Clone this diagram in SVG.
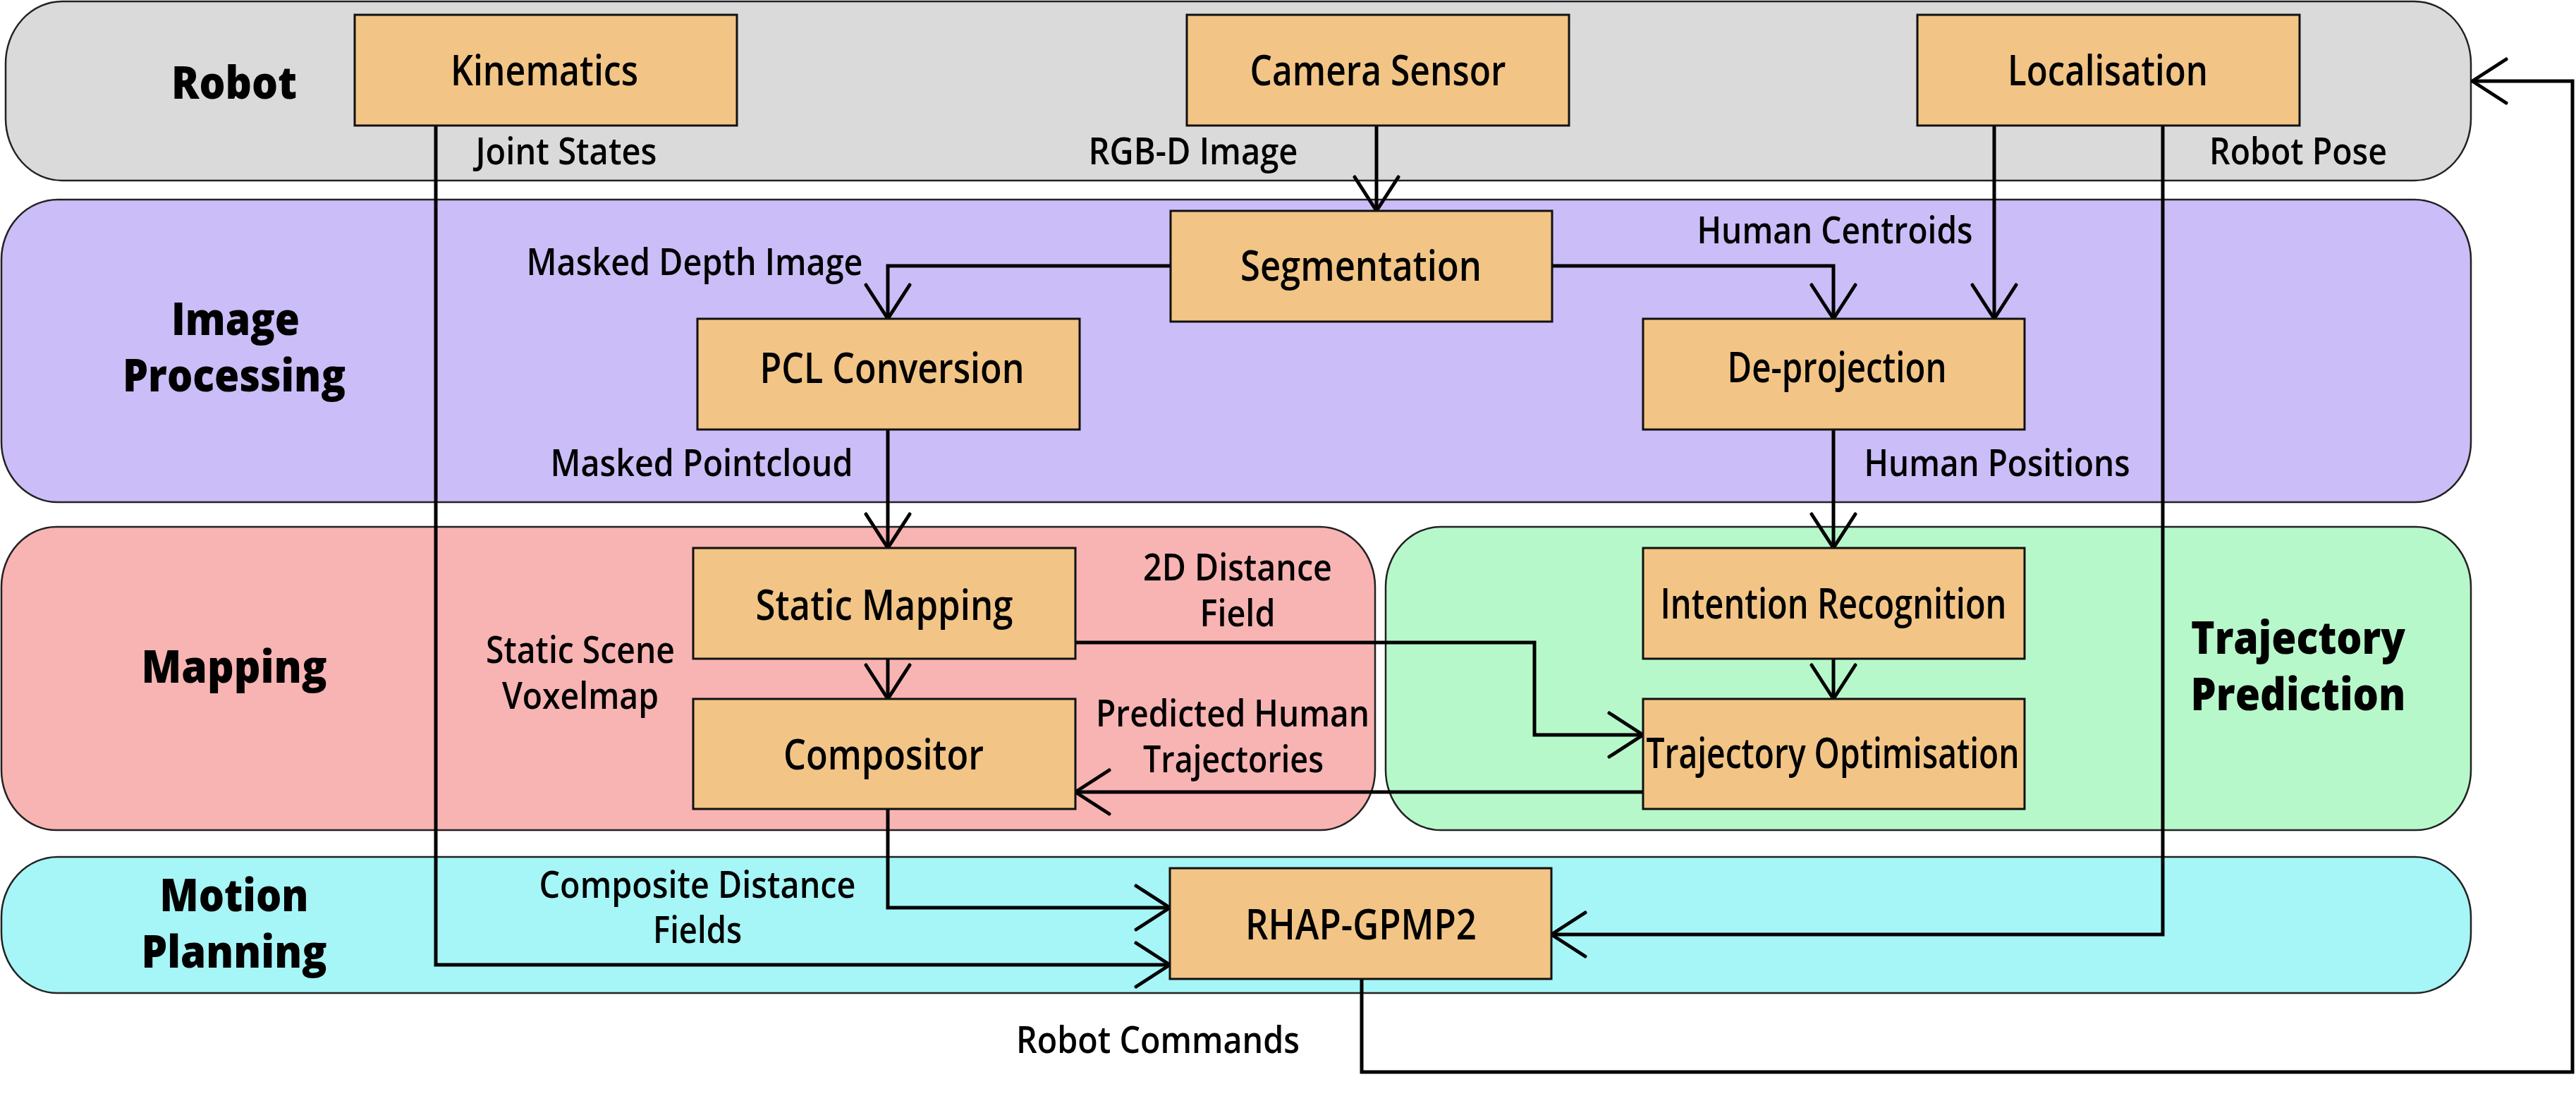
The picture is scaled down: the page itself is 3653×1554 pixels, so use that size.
<svg xmlns="http://www.w3.org/2000/svg" width="3653" height="1554" viewBox="0 0 3653 1554">
<defs>
<style>
.lane{stroke:#222;stroke-width:2.5}
.node{fill:#F2C586;stroke:#111;stroke-width:3}
.conn{fill:none;stroke:#000;stroke-width:5;stroke-linejoin:miter}
text{font-family:'Open Sans','Noto Sans','Liberation Sans',sans-serif;fill:#000;text-anchor:middle}
.nl{font-size:59px;font-weight:600}
.el{font-size:52px;font-weight:600}
.tl{font-size:64px;font-weight:800}
</style>
<marker id="arr" markerUnits="userSpaceOnUse" viewBox="-56 -36 62 72" refX="0" refY="0" markerWidth="62" markerHeight="72" orient="auto" overflow="visible">
<path d="M -48 -31 L 0 0 L -48 31" fill="none" stroke="#000" stroke-width="5" stroke-linejoin="round" stroke-linecap="round"/>
</marker>
</defs>
<rect width="3653" height="1554" fill="#fff"/>
<g id="lanes">
<g id="lane-robot"><rect class="lane" x="8" y="2" width="3496" height="254" rx="80" ry="88" fill="#DADADA"/>
<text class="tl" x="332" y="140" textLength="178" lengthAdjust="spacingAndGlyphs">Robot</text></g>
<g id="lane-image"><rect class="lane" x="2" y="283" width="3502" height="429" rx="80" ry="85" fill="#CBBDF7"/>
<text class="tl" x="334" y="475" textLength="182" lengthAdjust="spacingAndGlyphs">Image</text>
<text class="tl" x="332" y="555" textLength="316" lengthAdjust="spacingAndGlyphs">Processing</text></g>
<g id="lane-mapping"><rect class="lane" x="2" y="747" width="1948" height="430" rx="78" ry="85" fill="#F8B3B3"/>
<text class="tl" x="332" y="968" textLength="263" lengthAdjust="spacingAndGlyphs">Mapping</text></g>
<g id="lane-trajectory"><rect class="lane" x="1965" y="747" width="1539" height="430" rx="78" ry="85" fill="#B7F8CB"/>
<text class="tl" x="3259" y="927" textLength="304" lengthAdjust="spacingAndGlyphs">Trajectory</text>
<text class="tl" x="3259" y="1007" textLength="305" lengthAdjust="spacingAndGlyphs">Prediction</text></g>
<g id="lane-motion"><rect class="lane" x="2" y="1215" width="3502" height="193" rx="80" ry="85" fill="#A6F5F7"/>
<text class="tl" x="332" y="1292" textLength="211" lengthAdjust="spacingAndGlyphs">Motion</text>
<text class="tl" x="332" y="1372" textLength="263" lengthAdjust="spacingAndGlyphs">Planning</text></g>
</g>
<g id="connectors">
<path class="conn" marker-end="url(#arr)" d="M 618 178 V 1368 H 1659"/>
<path class="conn" marker-end="url(#arr)" d="M 1952 178 V 299"/>
<path class="conn" marker-end="url(#arr)" d="M 1660 377 H 1259 V 452"/>
<path class="conn" marker-end="url(#arr)" d="M 2201 377 H 2600 V 452"/>
<path class="conn" marker-end="url(#arr)" d="M 2828 178 V 452"/>
<path class="conn" marker-end="url(#arr)" d="M 3067 178 V 1325 H 2200"/>
<path class="conn" marker-end="url(#arr)" d="M 1259 609 V 777"/>
<path class="conn" marker-end="url(#arr)" d="M 2600 609 V 777"/>
<path class="conn" marker-end="url(#arr)" d="M 1259 934 V 991"/>
<path class="conn" marker-end="url(#arr)" d="M 2600 934 V 991"/>
<path class="conn" marker-end="url(#arr)" d="M 1525 911 H 2176 V 1042 H 2330"/>
<path class="conn" marker-end="url(#arr)" d="M 2330 1123 H 1525"/>
<path class="conn" marker-end="url(#arr)" d="M 1259 1147 V 1287 H 1659"/>
<path class="conn" marker-end="url(#arr)" d="M 1931 1388 V 1520 H 3648 V 115 H 3506"/>
<text class="el" x="803" y="233" textLength="257" lengthAdjust="spacingAndGlyphs">Joint States</text>
<text class="el" x="1692" y="233" textLength="297" lengthAdjust="spacingAndGlyphs">RGB-D Image</text>
<text class="el" x="3259" y="233" textLength="252" lengthAdjust="spacingAndGlyphs">Robot Pose</text>
<text class="el" x="985" y="390" textLength="477" lengthAdjust="spacingAndGlyphs">Masked Depth Image</text>
<text class="el" x="2602" y="345" textLength="391" lengthAdjust="spacingAndGlyphs">Human Centroids</text>
<text class="el" x="995" y="675" textLength="429" lengthAdjust="spacingAndGlyphs">Masked Pointcloud</text>
<text class="el" x="2832" y="675" textLength="377" lengthAdjust="spacingAndGlyphs">Human Positions</text>
<text class="el" x="823" y="940" textLength="268" lengthAdjust="spacingAndGlyphs">Static Scene</text>
<text class="el" x="823" y="1005" textLength="222" lengthAdjust="spacingAndGlyphs">Voxelmap</text>
<text class="el" x="1755" y="823" textLength="268" lengthAdjust="spacingAndGlyphs">2D Distance</text>
<text class="el" x="1755" y="888" textLength="107" lengthAdjust="spacingAndGlyphs">Field</text>
<text class="el" x="1748" y="1030" textLength="388" lengthAdjust="spacingAndGlyphs">Predicted Human</text>
<text class="el" x="1749" y="1095" textLength="256" lengthAdjust="spacingAndGlyphs">Trajectories</text>
<text class="el" x="989" y="1273" textLength="449" lengthAdjust="spacingAndGlyphs">Composite Distance</text>
<text class="el" x="989" y="1337" textLength="126" lengthAdjust="spacingAndGlyphs">Fields</text>
<text class="el" x="1642" y="1493" textLength="402" lengthAdjust="spacingAndGlyphs">Robot Commands</text>
</g>
<g id="node-kinematics"><rect class="node" x="503" y="21" width="542" height="157"/><text class="nl" x="772" y="121" textLength="266" lengthAdjust="spacingAndGlyphs">Kinematics</text></g>
<g id="node-camera"><rect class="node" x="1683" y="21" width="542" height="157"/><text class="nl" x="1954" y="121" textLength="363" lengthAdjust="spacingAndGlyphs">Camera Sensor</text></g>
<g id="node-localisation"><rect class="node" x="2719" y="21" width="542" height="157"/><text class="nl" x="2989" y="121" textLength="284" lengthAdjust="spacingAndGlyphs">Localisation</text></g>
<g id="node-segmentation"><rect class="node" x="1660" y="299" width="541" height="157"/><text class="nl" x="1930" y="398" textLength="342" lengthAdjust="spacingAndGlyphs">Segmentation</text></g>
<g id="node-pcl"><rect class="node" x="989" y="452" width="542" height="157"/><text class="nl" x="1265" y="543" textLength="375" lengthAdjust="spacingAndGlyphs">PCL Conversion</text></g>
<g id="node-deprojection"><rect class="node" x="2330" y="452" width="541" height="157"/><text class="nl" x="2605" y="542" textLength="311" lengthAdjust="spacingAndGlyphs">De-projection</text></g>
<g id="node-static"><rect class="node" x="983" y="777" width="542" height="157"/><text class="nl" x="1254" y="879" textLength="365" lengthAdjust="spacingAndGlyphs">Static Mapping</text></g>
<g id="node-compositor"><rect class="node" x="983" y="991" width="542" height="156"/><text class="nl" x="1253" y="1091" textLength="284" lengthAdjust="spacingAndGlyphs">Compositor</text></g>
<g id="node-intention"><rect class="node" x="2330" y="777" width="541" height="157"/><text class="nl" x="2600" y="877" textLength="491" lengthAdjust="spacingAndGlyphs">Intention Recognition</text></g>
<g id="node-trajopt"><rect class="node" x="2330" y="991" width="541" height="156"/><text class="nl" x="2599" y="1089" textLength="529" lengthAdjust="spacingAndGlyphs">Trajectory Optimisation</text></g>
<g id="node-rhap"><rect class="node" x="1659" y="1231" width="541" height="157"/><text class="nl" x="1930" y="1332" textLength="328" lengthAdjust="spacingAndGlyphs">RHAP-GPMP2</text></g>
</svg>
